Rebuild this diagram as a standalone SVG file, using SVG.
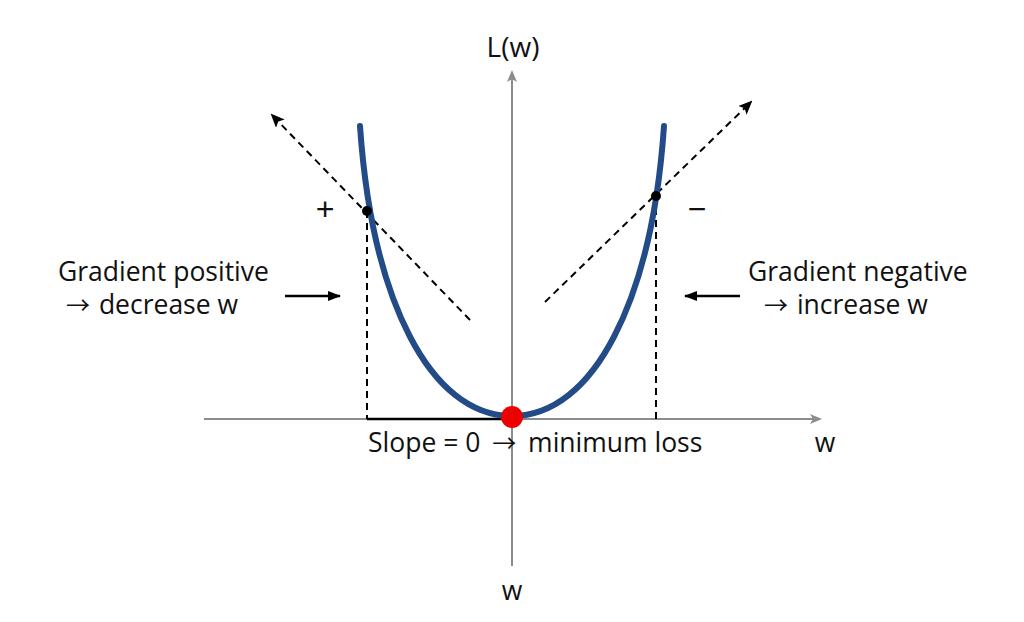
<svg xmlns="http://www.w3.org/2000/svg" width="1024" height="622" viewBox="0 0 1024 622">
<defs>
<marker id="ga" markerWidth="12" markerHeight="12" refX="10" refY="5" orient="auto" markerUnits="userSpaceOnUse"><path d="M0,0 L12,5 L0,10 L3,5 Z" fill="#8c8c8c"/></marker>
<marker id="ba" markerWidth="14" markerHeight="12" refX="12" refY="5" orient="auto" markerUnits="userSpaceOnUse"><path d="M0,0 L13,5 L0,10 Z" fill="#000"/></marker>
<marker id="da" markerWidth="14" markerHeight="12" refX="12" refY="6" orient="auto" markerUnits="userSpaceOnUse"><path d="M0,0 L14,6 L0,12 L3,6 Z" fill="#000"/></marker>
</defs>
<style>
.t{font-family:"Open Sans","Liberation Sans",sans-serif;font-size:26.5px;fill:#111}
.ar{font-family:"Noto Sans CJK SC","DejaVu Sans",sans-serif;font-size:24px}
.pm{font-family:"Liberation Sans",sans-serif;font-size:32px;fill:#111}
.axis{stroke:#8c8c8c;stroke-width:2;fill:none}
.dash{stroke:#000;stroke-width:2;stroke-dasharray:7,5;fill:none}
</style>
<rect width="1024" height="622" fill="#fff"/>
<g id="axes">
<line class="axis" x1="204" y1="419" x2="820" y2="419" marker-end="url(#ga)"/>
<line class="axis" x1="512" y1="566" x2="512" y2="72" marker-end="url(#ga)"/>
</g>
<g id="connectors">
<line class="dash" x1="470" y1="320" x2="272" y2="115" marker-end="url(#da)"/>
<line class="dash" x1="545" y1="302" x2="751" y2="102" marker-end="url(#da)"/>
<line class="dash" x1="367" y1="211" x2="367" y2="419"/>
<line class="dash" x1="656" y1="196" x2="656" y2="419"/>
<line x1="367" y1="419" x2="512" y2="419" stroke="#000" stroke-width="2.5"/>
<line x1="285" y1="296" x2="340" y2="296" stroke="#000" stroke-width="2.5" marker-end="url(#ba)"/>
<line x1="740" y1="296" x2="685" y2="296" stroke="#000" stroke-width="2.5" marker-end="url(#ba)"/>
</g>
<g id="curve">
<path d="M360,126 C372,300 430,416 512,416 C594,416 652,300 664,126" fill="none" stroke="#234b88" stroke-width="6" stroke-linecap="round"/>
</g>
<g id="points">
<circle cx="367" cy="211" r="5" fill="#000"/>
<circle cx="656" cy="196" r="5" fill="#000"/>
<circle cx="512" cy="417" r="11" fill="#ee0000"/>
</g>
<g id="labels">
<text class="t" x="513" y="57" text-anchor="middle" style="font-size:28px">L(w)</text>
<text class="pm" x="325" y="220" text-anchor="middle">+</text>
<text class="pm" x="697" y="220" text-anchor="middle">−</text>
<text class="t" x="58" y="281">Gradient positive</text>
<text class="t" x="66" y="314"><tspan class="ar">→</tspan><tspan dx="2"> decrease w</tspan></text>
<text class="t" x="748" y="281">Gradient negative</text>
<text class="t" x="764" y="314"><tspan class="ar">→</tspan><tspan dx="2"> increase w</tspan></text>
<text class="t" x="368" y="452">Slope = 0 <tspan class="ar" dx="5">→</tspan><tspan dx="5"> minimum loss</tspan></text>
<text class="t" x="825" y="452" text-anchor="middle">w</text>
<text class="t" x="512" y="600" text-anchor="middle">w</text>
</g>
</svg>
